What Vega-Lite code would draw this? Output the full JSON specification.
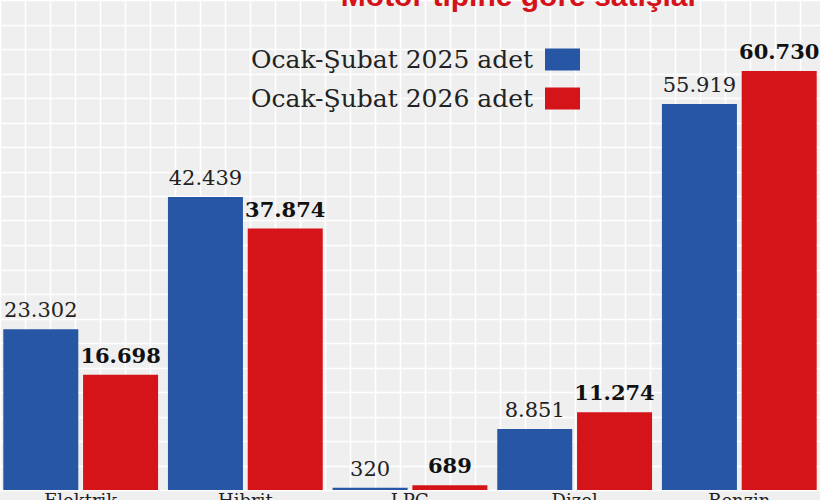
{
  "$schema": "https://vega.github.io/schema/vega-lite/v6.json",
  "autosize": "none",
  "width": 820,
  "height": 490,
  "padding": {"left": 0, "top": 0, "right": 0, "bottom": 10},
  "background": "#efefef",
  "title": {
    "text": "Motor tipine göre satışlar",
    "color": "#d4121a",
    "font": "Liberation Sans",
    "fontSize": 30,
    "fontWeight": "bold",
    "anchor": "middle",
    "dx": 110,
    "offset": 0,
    "baseline": "alphabetic",
    "dy": 36
  },
  "data": {
    "values": [
      {"tip": "Elektrik", "donem": "Ocak-Şubat 2025 adet", "adet": 23302},
      {"tip": "Elektrik", "donem": "Ocak-Şubat 2026 adet", "adet": 16698},
      {"tip": "Hibrit", "donem": "Ocak-Şubat 2025 adet", "adet": 42439},
      {"tip": "Hibrit", "donem": "Ocak-Şubat 2026 adet", "adet": 37874},
      {"tip": "LPG", "donem": "Ocak-Şubat 2025 adet", "adet": 320},
      {"tip": "LPG", "donem": "Ocak-Şubat 2026 adet", "adet": 689},
      {"tip": "Dizel", "donem": "Ocak-Şubat 2025 adet", "adet": 8851},
      {"tip": "Dizel", "donem": "Ocak-Şubat 2026 adet", "adet": 11274},
      {"tip": "Benzin", "donem": "Ocak-Şubat 2025 adet", "adet": 55919},
      {"tip": "Benzin", "donem": "Ocak-Şubat 2026 adet", "adet": 60730}
    ]
  },
  "layer": [
    {
      "data": {"values": [{"g": 0}]},
      "mark": {"type": "point", "opacity": 0},
      "encoding": {
        "x": {
          "field": "g",
          "type": "quantitative",
          "scale": {"domain": [0, 32.8], "nice": false, "zero": false},
          "axis": {
            "orient": "top",
            "values": [0, 1, 2, 3, 4, 5, 6, 7, 8, 9, 10, 11, 12, 13, 14, 15, 16, 17, 18, 19, 20, 21, 22, 23, 24, 25, 26, 27, 28, 29, 30, 31, 32],
            "grid": true,
            "gridColor": "#ffffff",
            "gridWidth": 1.5,
            "labels": false,
            "ticks": false,
            "domain": false,
            "title": null
          }
        }
      }
    },
    {
      "encoding": {
        "x": {
          "field": "tip",
          "type": "nominal",
          "sort": ["Elektrik", "Hibrit", "LPG", "Dizel", "Benzin"],
          "scale": {"paddingInner": 0.06, "paddingOuter": 0.02},
          "axis": {
            "title": null,
            "labelAngle": 0,
            "labelFont": "DejaVu Serif",
            "labelFontSize": 18,
            "labelColor": "#222222",
            "labelPadding": 2,
            "ticks": false,
            "domain": false
          }
        },
        "xOffset": {
          "field": "donem",
          "type": "nominal",
          "scale": {"paddingInner": 0.06}
        },
        "y": {
          "field": "adet",
          "type": "quantitative",
          "scale": {"domain": [0, 71000], "nice": false},
          "axis": {
            "values": [0, 3550, 7100, 10650, 14200, 17750, 21300, 24850, 28400, 31950, 35500, 39050, 42600, 46150, 49700, 53250, 56800, 60350, 63900, 67450, 71000],
            "grid": true,
            "gridColor": "#ffffff",
            "gridWidth": 1.5,
            "labels": false,
            "ticks": false,
            "domain": false,
            "title": null
          }
        }
      },
      "layer": [
        {
          "mark": {"type": "bar"},
          "encoding": {
            "color": {
              "field": "donem",
              "type": "nominal",
              "scale": {
                "domain": ["Ocak-Şubat 2025 adet", "Ocak-Şubat 2026 adet"],
                "range": ["#2656a4", "#d41418"]
              },
              "legend": {
                "orient": "none",
                "legendX": 545,
                "legendY": 42,
                "title": null,
                "symbolType": "M-1,-0.63H1V0.63H-1Z",
                "symbolSize": 1225,
                "symbolStrokeWidth": 0,
                "labelFont": "DejaVu Serif",
                "labelFontSize": 25,
                "labelColor": "#222222",
                "labelAlign": "right",
                "labelOffset": -47,
                "labelLimit": 500,
                "rowPadding": 8
              }
            }
          }
        },
        {
          "transform": [{"filter": "datum.donem === 'Ocak-Şubat 2025 adet'"}],
          "mark": {
            "type": "text",
            "font": "DejaVu Serif",
            "fontSize": 21,
            "color": "#222222",
            "baseline": "alphabetic",
            "dy": -12
          },
          "encoding": {
            "text": {"field": "adet", "type": "quantitative", "format": ",d"}
          }
        },
        {
          "transform": [{"filter": "datum.donem === 'Ocak-Şubat 2026 adet'"}],
          "mark": {
            "type": "text",
            "font": "DejaVu Serif",
            "fontSize": 21,
            "fontWeight": "bold",
            "color": "#111111",
            "baseline": "alphabetic",
            "dy": -12
          },
          "encoding": {
            "text": {"field": "adet", "type": "quantitative", "format": ",d"}
          }
        }
      ]
    }
  ],
  "resolve": {"scale": {"x": "independent"}, "axis": {"x": "independent"}},
  "config": {
    "view": {"stroke": null},
    "locale": {
      "number": {"decimal": ",", "thousands": ".", "grouping": [3], "currency": ["", " ₺"]}
    }
  }
}
